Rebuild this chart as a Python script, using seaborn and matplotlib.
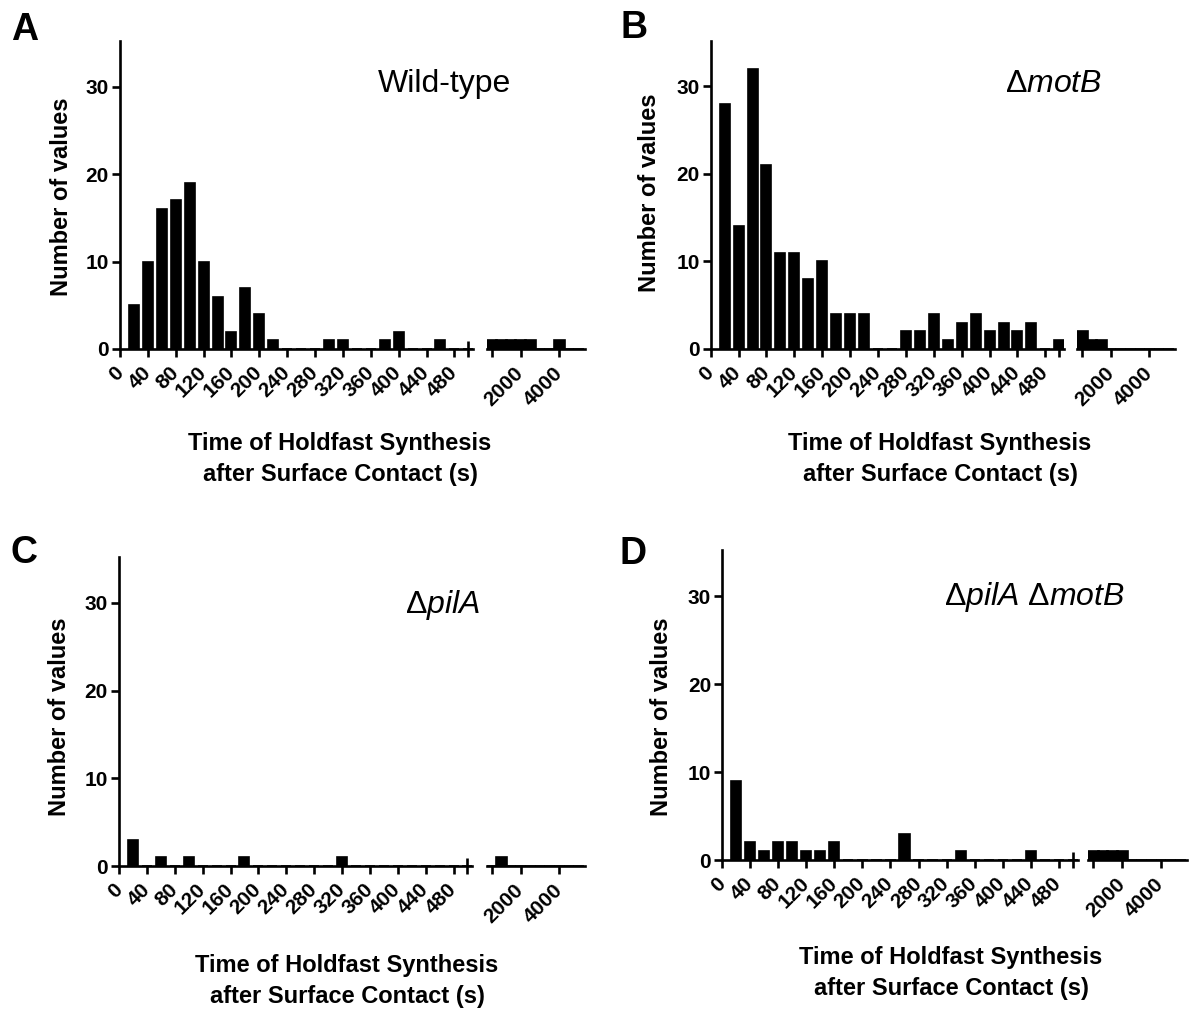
"""
Frequency distributions of holdfast synthesis time after surface contact,
four strains, each with a broken x axis (0-500 s and 500-5000 s).
"""
import matplotlib
matplotlib.use("Agg")
import matplotlib.pyplot as plt
import seaborn as sns
import numpy as np
import pandas as pd

W, H = 1191, 1009

# bin centres (s)
left_centers = list(range(20, 501, 20))
right_centers = list(range(500, 5001, 500))
left_ticks = list(range(0, 481, 40))
right_ticks = [500, 2000, 4000]
right_tick_labels = ["", "2000", "4000"]
y_ticks = [0, 10, 20, 30]

# counts per bin
wt_left = [5, 10, 16, 17, 19, 10, 6, 2, 7, 4, 1, 0, 0, 0, 1, 1, 0, 0, 1, 2, 0, 0, 1, 0, 0]
wt_right = [1, 1, 1, 1, 1, 0, 0, 1, 0, 0]
motb_left = [28, 14, 32, 21, 11, 11, 8, 10, 4, 4, 4, 0, 0, 2, 2, 4, 1, 3, 4, 2, 3, 2, 3, 0, 1]
motb_right = [2, 1, 1, 0, 0, 0, 0, 0, 0, 0]
pila_left = [3, 0, 1, 0, 1, 0, 0, 0, 1, 0, 0, 0, 0, 0, 0, 1, 0, 0, 0, 0, 0, 0, 0, 0, 0]
pila_right = [0, 1, 0, 0, 0, 0, 0, 0, 0, 0]
both_left = [9, 2, 1, 2, 2, 1, 1, 2, 0, 0, 0, 0, 3, 0, 0, 0, 1, 0, 0, 0, 0, 1, 0, 0, 0]
both_right = [1, 1, 1, 1, 0, 0, 0, 0, 0, 0]

panel_letters = ["A", "B", "C", "D"]
strain_labels = ["Wild-type", "Δ$\\mathit{motB}$", "Δ$\\mathit{pilA}$",
                 "Δ$\\mathit{pilA}$ Δ$\\mathit{motB}$"]
x_label = "Time of Holdfast Synthesis\nafter Surface Contact (s)"
y_label = "Number of values"

# pixel layout of each panel:
# y-axis x, baseline y, px per s (left part), right part x0, x1, px per count
geometry = {
    "A": (120, 349, 0.6967, 486.7, 585, 8.74),
    "B": (710.7, 349, 0.6972, 1077.3, 1175, 8.76),
    "C": (119, 866, 0.697, 486.7, 585, 8.77),
    "D": (722.3, 860, 0.7008, 1088.3, 1186.7, 8.80),
}
letter_pos = {"A": (11, 12), "B": (620, 10), "C": (11, 535), "D": (619, 536)}
strain_pos = {"A": (511, 84), "B": (1102, 84), "C": (480, 605), "D": (1125, 597)}
ylabel_pos = {"A": (61, 197), "B": (650, 193), "C": (59, 717), "D": (662, 717)}
xlabel_pos = {"A": (340, 459), "B": (940, 459), "C": (347, 981), "D": (951, 973)}

sns.set_style("ticks")
plt.rcParams["font.family"] = ["Liberation Sans", "DejaVu Sans"]
plt.rcParams["mathtext.fontset"] = "custom"
plt.rcParams["mathtext.rm"] = "Liberation Sans"
plt.rcParams["mathtext.it"] = "Liberation Sans:italic"
for key in ["text.color", "axes.labelcolor", "xtick.color", "ytick.color",
            "axes.edgecolor"]:
    plt.rcParams[key] = "black"

LW = 1.9
BAR_LW = 1.2
TICK_FS = 15
LABEL_FS = 17


def style_axis(ax):
    for side in ["top", "right"]:
        ax.spines[side].set_visible(False)
    for side in ["left", "bottom"]:
        ax.spines[side].set_linewidth(LW)
    ax.tick_params(width=LW, length=6, labelsize=TICK_FS)
    for lab in ax.get_xticklabels() + ax.get_yticklabels():
        lab.set_fontweight("bold")


def draw_panel(fig, letter, strain, left_counts, right_counts):
    yx, y0, pps, rx0, rx1, upx = geometry[letter]
    ymax = 35.2
    h = ymax * upx
    xmax_left = 507

    axL = fig.add_axes([yx / W, 1 - y0 / H, xmax_left * pps / W, h / H])
    axR = fig.add_axes([rx0 / W, 1 - y0 / H, (rx1 - rx0) / W, h / H])

    dfL = pd.DataFrame({"t": left_centers, "n": left_counts})
    dfR = pd.DataFrame({"t": right_centers, "n": right_counts})
    # zero-count bins still show as a short line from the bar edge
    sns.barplot(data=dfL, x="t", y="n", native_scale=True, width=0.72,
                color="black", saturation=1, edgecolor="black", linewidth=BAR_LW,
                errorbar=None, ax=axL)
    sns.barplot(data=dfR, x="t", y="n", native_scale=True, width=1.10,
                color="black", saturation=1, edgecolor="black", linewidth=BAR_LW,
                errorbar=None, ax=axR)

    # left part
    axL.set_xlim(0, xmax_left)
    axL.set_ylim(0, ymax)
    axL.set_xticks(left_ticks)
    axL.set_xticklabels([str(t) for t in left_ticks], rotation=45,
                        ha="right", va="center", rotation_mode="anchor")
    axL.set_xticks([500], minor=True)
    axL.set_yticks(y_ticks)
    axL.set_yticklabels([str(t) for t in y_ticks])
    axL.set_xlabel("")
    axL.set_ylabel("")
    style_axis(axL)
    axL.tick_params(axis="x", which="major", pad=9)
    axL.tick_params(axis="y", pad=2)
    axL.tick_params(axis="x", which="minor", direction="inout", length=12, width=LW)

    # right part
    axR.set_xlim(240, 5330)
    axR.set_ylim(0, ymax)
    axR.set_xticks(right_ticks)
    axR.set_xticklabels(right_tick_labels, rotation=45,
                        ha="right", va="center", rotation_mode="anchor")
    axR.set_yticks([])
    axR.set_xlabel("")
    axR.set_ylabel("")
    style_axis(axR)
    axR.spines["left"].set_visible(False)
    axR.tick_params(axis="x", pad=9)

    # texts
    lx, ly = letter_pos[letter]
    fig.text(lx / W, 1 - ly / H, letter, fontsize=27, fontweight="bold",
             ha="left", va="top")
    sx, sy = strain_pos[letter]
    fig.text(sx / W, 1 - sy / H, strain, fontsize=23, ha="right", va="center")
    yl_x, yl_y = ylabel_pos[letter]
    fig.text(yl_x / W, 1 - yl_y / H, y_label, fontsize=LABEL_FS,
             fontweight="bold", rotation=90, ha="center", va="center")
    xl_x, xl_y = xlabel_pos[letter]
    fig.text(xl_x / W, 1 - xl_y / H, x_label, fontsize=LABEL_FS,
             fontweight="bold", ha="center", va="center", linespacing=1.45)


fig = plt.figure(figsize=(W / 100, H / 100), dpi=100)
data = [(wt_left, wt_right), (motb_left, motb_right),
        (pila_left, pila_right), (both_left, both_right)]
for letter, strain, (lc, rc) in zip(panel_letters, strain_labels, data):
    draw_panel(fig, letter, strain, lc, rc)

fig.savefig("out.png", dpi=100)
